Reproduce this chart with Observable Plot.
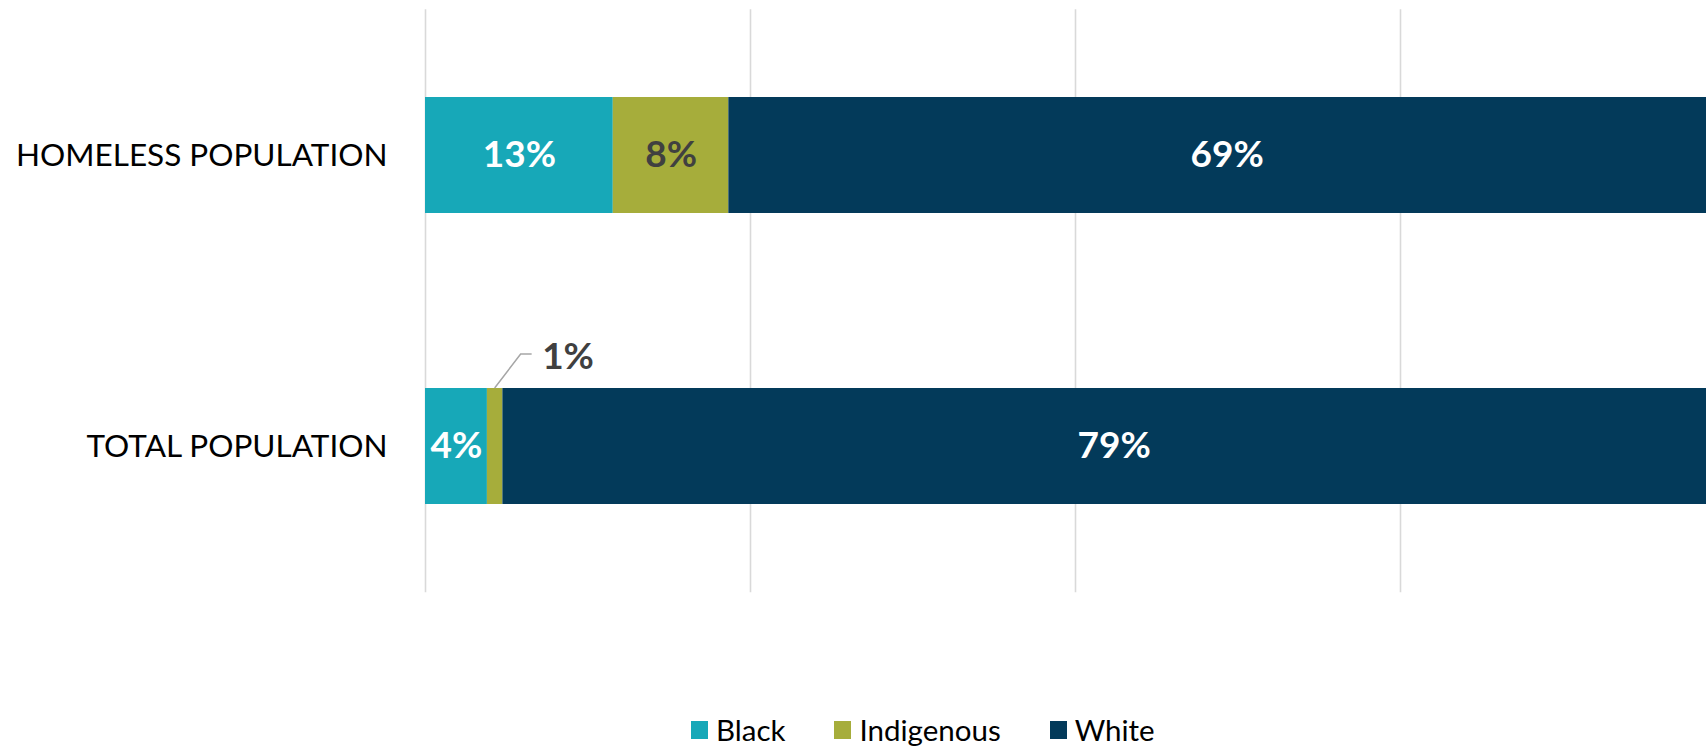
<!DOCTYPE html>
<html>
<head>
<meta charset="utf-8">
<script src="https://cdn.jsdelivr.net/npm/d3@7"></script>
<script src="https://cdn.jsdelivr.net/npm/@observablehq/plot@0.6"></script>
<style>
  html, body { margin: 0; padding: 0; background: #fff; overflow: hidden; width: 1706px; height: 746px; }
  #chart svg { display: block; max-width: none; overflow: hidden; }
  #legend { display: flex; align-items: center; margin-left: 691px; margin-top: 115px; height: 30px;
            font-family: Lato, "Open Sans", sans-serif; font-size: 29.5px; line-height: 1; color: #000; }
  .item { display: flex; align-items: center; margin-right: 49px; }
  .item span { line-height: 1; }
  .sw { width: 17px; height: 18px; margin-right: 8px; }
</style>
</head>
<body>
<div id="chart"></div>
<div id="legend"></div>
<script>
// ---- data ----
const groups = ["HOMELESS POPULATION", "TOTAL POPULATION"];
const races = ["Black", "Indigenous", "White"];
const raceColors = ["#17a8b8", "#a6ad3b", "#033a5a"];
const labelColors = ["#ffffff", "#404040", "#ffffff"];
const homelessValues = [13, 8, 69];
const totalValues = [4, 1, 79];
const gridTicks = [0, 0.25, 0.5, 0.75, 1];
const outsideLabel = { group: "TOTAL POPULATION", race: "Indigenous" };

const seriesByGroup = { "HOMELESS POPULATION": homelessValues, "TOTAL POPULATION": totalValues };
const data = groups.flatMap(g => seriesByGroup[g].map((v, i) => ({ group: g, race: races[i], value: v })));
const isOutside = d => d.group === outsideLabel.group && d.race === outsideLabel.race;

const FONT = "Lato, 'Open Sans', sans-serif";

// leader line for outside label, derived from data via scales
function leader(index, scales) {
  const vals = seriesByGroup[outsideLabel.group];
  const k = races.indexOf(outsideLabel.race);
  const before = d3.sum(vals.slice(0, k));
  const mid = (before + vals[k] / 2) / d3.sum(vals);
  const x0 = scales.x(mid);
  const y0 = scales.y(outsideLabel.group);
  const p = d3.path();
  p.moveTo(x0, y0);
  p.lineTo(x0 + 26, y0 - 34);
  p.lineTo(x0 + 37, y0 - 34);
  return d3.create("svg:path")
    .attr("d", p.toString())
    .attr("fill", "none")
    .attr("stroke", "#a6a6a6")
    .attr("stroke-width", 1.5)
    .node();
}

const chart = Plot.plot({
  width: 1706,
  height: 600,
  marginLeft: 425,
  marginRight: -19,
  marginTop: 9.3,
  marginBottom: 7.7,
  style: { fontFamily: FONT, fontSize: "31.5px", color: "#000", background: "#fff" },
  x: { domain: [0, 1], axis: null },
  y: { domain: groups, paddingInner: 0.6, paddingOuter: 0.3, tickSize: 0, tickPadding: 38, label: null },
  color: { domain: races, range: raceColors },
  marks: [
    Plot.ruleX(gridTicks, { x: d => d, stroke: "#d9d9d9", strokeWidth: 1.6 }),
    Plot.barX(data, Plot.stackX({ offset: "normalize", x: "value", y: "group", z: "race", fill: "race", inset: 0 })),
    Plot.text(data, Plot.stackX({
      offset: "normalize", x: "value", y: "group", z: "race",
      text: d => isOutside(d) ? "" : `${d.value}%`,
      fill: d => labelColors[races.indexOf(d.race)],
      fontSize: 37, fontWeight: "bold", fontFamily: FONT
    })),
    leader,
    Plot.text(data, Plot.stackX({
      offset: "normalize", x: "value", y: "group", z: "race",
      text: d => isOutside(d) ? `${d.value}%` : "",
      fill: "#404040", textAnchor: "start", dx: 47, dy: -89,
      fontSize: 37, fontWeight: "bold", fontFamily: FONT
    }))
  ]
});
document.getElementById("chart").appendChild(chart);

// legend
const legend = d3.select("#legend");
races.forEach((r, i) => {
  const item = legend.append("div").attr("class", "item");
  item.append("div").attr("class", "sw").style("background", raceColors[i]);
  item.append("span").text(r);
});
</script>
</body>
</html>
